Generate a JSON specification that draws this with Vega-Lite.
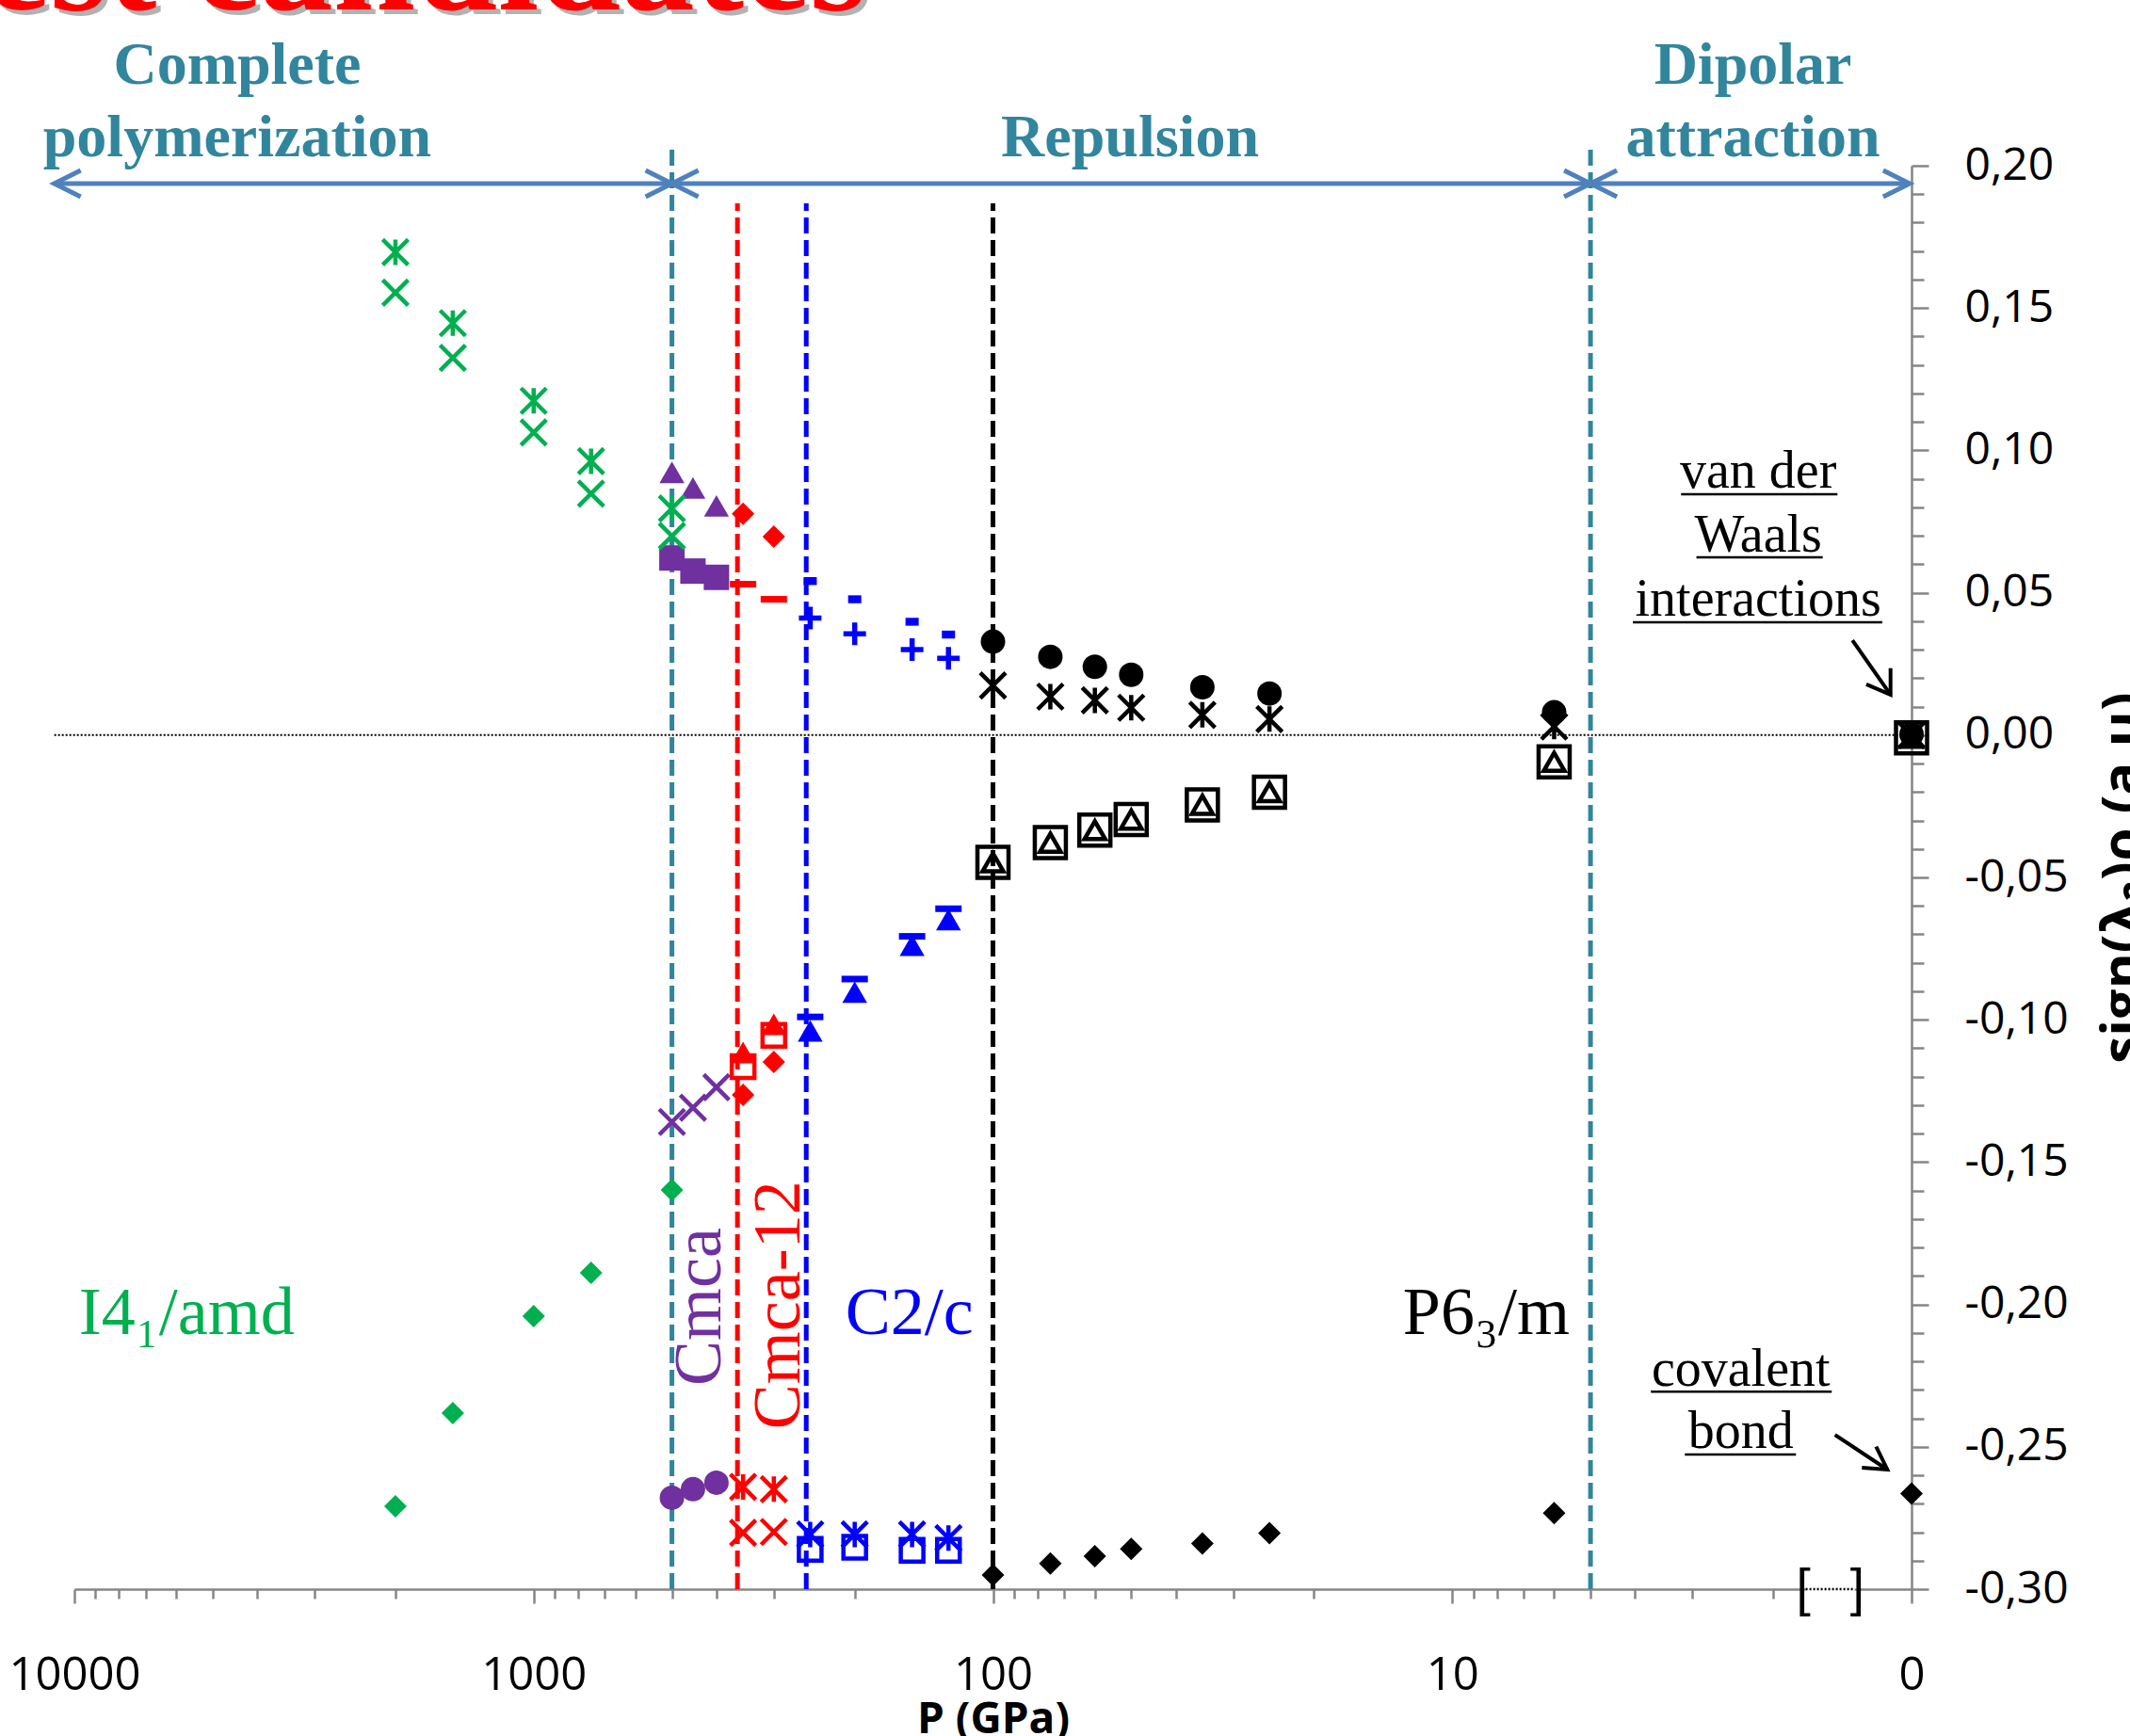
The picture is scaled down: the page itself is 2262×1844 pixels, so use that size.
{
  "$schema": "https://vega.github.io/schema/vega-lite/v6.json",
  "width": 1951,
  "height": 1512,
  "autosize": {"type": "none"},
  "padding": {"left": 79, "top": 176, "right": 232, "bottom": 156},
  "background": "white",
  "config": {"view": {"stroke": null}},
  "datasets": {
    "pts": [
      {"P": 2000, "v": 0.1696, "phase": "I4₁/amd", "marker": "star"},
      {"P": 2000, "v": 0.1554, "phase": "I4₁/amd", "marker": "x"},
      {"P": 2000, "v": -0.2709, "phase": "I4₁/amd", "marker": "diamond"},
      {"P": 1500, "v": 0.1447, "phase": "I4₁/amd", "marker": "star"},
      {"P": 1500, "v": 0.1325, "phase": "I4₁/amd", "marker": "x"},
      {"P": 1500, "v": -0.2382, "phase": "I4₁/amd", "marker": "diamond"},
      {"P": 1000, "v": 0.1174, "phase": "I4₁/amd", "marker": "star"},
      {"P": 1000, "v": 0.1063, "phase": "I4₁/amd", "marker": "x"},
      {"P": 1000, "v": -0.2041, "phase": "I4₁/amd", "marker": "diamond"},
      {"P": 750, "v": 0.0962, "phase": "I4₁/amd", "marker": "star"},
      {"P": 750, "v": 0.0848, "phase": "I4₁/amd", "marker": "x"},
      {"P": 750, "v": -0.1889, "phase": "I4₁/amd", "marker": "diamond"},
      {"P": 500, "v": 0.0796, "phase": "I4₁/amd", "marker": "star"},
      {"P": 500, "v": 0.0699, "phase": "I4₁/amd", "marker": "x"},
      {"P": 500, "v": -0.1598, "phase": "I4₁/amd", "marker": "diamond"},

      {"P": 500, "v": 0.0923, "phase": "Cmca", "marker": "triangle"},
      {"P": 450, "v": 0.0868, "phase": "Cmca", "marker": "triangle"},
      {"P": 400, "v": 0.0805, "phase": "Cmca", "marker": "triangle"},
      {"P": 500, "v": 0.0622, "phase": "Cmca", "marker": "square"},
      {"P": 450, "v": 0.0576, "phase": "Cmca", "marker": "square"},
      {"P": 400, "v": 0.0554, "phase": "Cmca", "marker": "square"},
      {"P": 500, "v": -0.1359, "phase": "Cmca", "marker": "x"},
      {"P": 450, "v": -0.1309, "phase": "Cmca", "marker": "x"},
      {"P": 400, "v": -0.1237, "phase": "Cmca", "marker": "x"},
      {"P": 500, "v": -0.2679, "phase": "Cmca", "marker": "circle"},
      {"P": 450, "v": -0.2649, "phase": "Cmca", "marker": "circle"},
      {"P": 400, "v": -0.2626, "phase": "Cmca", "marker": "circle"},

      {"P": 350, "v": 0.0777, "phase": "Cmca-12", "marker": "diamond"},
      {"P": 300, "v": 0.0697, "phase": "Cmca-12", "marker": "diamond"},
      {"P": 350, "v": 0.0530, "phase": "Cmca-12", "marker": "dash"},
      {"P": 300, "v": 0.0477, "phase": "Cmca-12", "marker": "dash"},
      {"P": 350, "v": -0.1165, "phase": "Cmca-12", "marker": "opensquare"},
      {"P": 300, "v": -0.1055, "phase": "Cmca-12", "marker": "opensquare"},
      {"P": 350, "v": -0.1115, "phase": "Cmca-12", "marker": "triangle"},
      {"P": 300, "v": -0.1016, "phase": "Cmca-12", "marker": "triangle"},
      {"P": 350, "v": -0.1264, "phase": "Cmca-12", "marker": "diamond"},
      {"P": 300, "v": -0.1148, "phase": "Cmca-12", "marker": "diamond"},
      {"P": 350, "v": -0.2641, "phase": "Cmca-12", "marker": "star"},
      {"P": 300, "v": -0.2649, "phase": "Cmca-12", "marker": "star"},
      {"P": 350, "v": -0.2802, "phase": "Cmca-12", "marker": "x"},
      {"P": 300, "v": -0.2799, "phase": "Cmca-12", "marker": "x"},

      {"P": 250, "v": 0.0541, "phase": "C2/c", "marker": "minidash"},
      {"P": 200, "v": 0.0477, "phase": "C2/c", "marker": "minidash"},
      {"P": 150, "v": 0.0398, "phase": "C2/c", "marker": "minidash"},
      {"P": 125, "v": 0.0353, "phase": "C2/c", "marker": "minidash"},
      {"P": 250, "v": 0.0411, "phase": "C2/c", "marker": "plus"},
      {"P": 200, "v": 0.0356, "phase": "C2/c", "marker": "plus"},
      {"P": 150, "v": 0.0300, "phase": "C2/c", "marker": "plus"},
      {"P": 125, "v": 0.0270, "phase": "C2/c", "marker": "plus"},
      {"P": 250, "v": -0.1039, "phase": "C2/c", "marker": "triangle"},
      {"P": 200, "v": -0.0903, "phase": "C2/c", "marker": "triangle"},
      {"P": 150, "v": -0.0738, "phase": "C2/c", "marker": "triangle"},
      {"P": 125, "v": -0.0648, "phase": "C2/c", "marker": "triangle"},
      {"P": 250, "v": -0.0990, "phase": "C2/c", "marker": "dash"},
      {"P": 200, "v": -0.0857, "phase": "C2/c", "marker": "dash"},
      {"P": 150, "v": -0.0707, "phase": "C2/c", "marker": "dash"},
      {"P": 125, "v": -0.0610, "phase": "C2/c", "marker": "dash"},
      {"P": 250, "v": -0.2808, "phase": "C2/c", "marker": "star"},
      {"P": 200, "v": -0.2808, "phase": "C2/c", "marker": "star"},
      {"P": 150, "v": -0.2808, "phase": "C2/c", "marker": "star"},
      {"P": 125, "v": -0.2821, "phase": "C2/c", "marker": "star"},
      {"P": 250, "v": -0.2860, "phase": "C2/c", "marker": "opensquare"},
      {"P": 200, "v": -0.2853, "phase": "C2/c", "marker": "opensquare"},
      {"P": 150, "v": -0.2864, "phase": "C2/c", "marker": "opensquare"},
      {"P": 125, "v": -0.2864, "phase": "C2/c", "marker": "opensquare"},

      {"P": 100, "v": 0.0328, "phase": "P6₃/m", "marker": "circle"},
      {"P": 75, "v": 0.0275, "phase": "P6₃/m", "marker": "circle"},
      {"P": 60, "v": 0.0240, "phase": "P6₃/m", "marker": "circle"},
      {"P": 50, "v": 0.0212, "phase": "P6₃/m", "marker": "circle"},
      {"P": 35, "v": 0.0168, "phase": "P6₃/m", "marker": "circle"},
      {"P": 25, "v": 0.0146, "phase": "P6₃/m", "marker": "circle"},
      {"P": 6, "v": 0.0080, "phase": "P6₃/m", "marker": "circle"},
      {"P": 1, "v": 0.0003, "phase": "P6₃/m", "marker": "circle"},
      {"P": 100, "v": 0.0174, "phase": "P6₃/m", "marker": "star"},
      {"P": 75, "v": 0.0135, "phase": "P6₃/m", "marker": "star"},
      {"P": 60, "v": 0.0122, "phase": "P6₃/m", "marker": "star"},
      {"P": 50, "v": 0.0096, "phase": "P6₃/m", "marker": "star"},
      {"P": 35, "v": 0.0071, "phase": "P6₃/m", "marker": "star"},
      {"P": 25, "v": 0.0056, "phase": "P6₃/m", "marker": "star"},
      {"P": 6, "v": 0.0030, "phase": "P6₃/m", "marker": "star"},
      {"P": 1, "v": 0.0000, "phase": "P6₃/m", "marker": "star"},
      {"P": 100, "v": -0.0447, "phase": "P6₃/m", "marker": "box"},
      {"P": 75, "v": -0.0378, "phase": "P6₃/m", "marker": "box"},
      {"P": 60, "v": -0.0334, "phase": "P6₃/m", "marker": "box"},
      {"P": 50, "v": -0.0297, "phase": "P6₃/m", "marker": "box"},
      {"P": 35, "v": -0.0245, "phase": "P6₃/m", "marker": "box"},
      {"P": 25, "v": -0.0201, "phase": "P6₃/m", "marker": "box"},
      {"P": 6, "v": -0.0094, "phase": "P6₃/m", "marker": "box"},
      {"P": 1, "v": -0.0010, "phase": "P6₃/m", "marker": "box"},
      {"P": 100, "v": -0.0447, "phase": "P6₃/m", "marker": "opentriangle"},
      {"P": 75, "v": -0.0378, "phase": "P6₃/m", "marker": "opentriangle"},
      {"P": 60, "v": -0.0334, "phase": "P6₃/m", "marker": "opentriangle"},
      {"P": 50, "v": -0.0297, "phase": "P6₃/m", "marker": "opentriangle"},
      {"P": 35, "v": -0.0245, "phase": "P6₃/m", "marker": "opentriangle"},
      {"P": 25, "v": -0.0201, "phase": "P6₃/m", "marker": "opentriangle"},
      {"P": 6, "v": -0.0094, "phase": "P6₃/m", "marker": "opentriangle"},
      {"P": 1, "v": -0.0010, "phase": "P6₃/m", "marker": "opentriangle"},
      {"P": 100, "v": -0.2950, "phase": "P6₃/m", "marker": "diamond"},
      {"P": 75, "v": -0.2910, "phase": "P6₃/m", "marker": "diamond"},
      {"P": 60, "v": -0.2884, "phase": "P6₃/m", "marker": "diamond"},
      {"P": 50, "v": -0.2859, "phase": "P6₃/m", "marker": "diamond"},
      {"P": 35, "v": -0.2840, "phase": "P6₃/m", "marker": "diamond"},
      {"P": 25, "v": -0.2803, "phase": "P6₃/m", "marker": "diamond"},
      {"P": 6, "v": -0.2733, "phase": "P6₃/m", "marker": "diamond"},
      {"P": 1, "v": -0.2664, "phase": "P6₃/m", "marker": "diamond"}
    ],
    "vlines": [
      {"P": 500, "v": -0.30, "v2": 0.2075, "phase": "boundary"},
      {"P": 5, "v": -0.30, "v2": 0.2075, "phase": "boundary"},
      {"P": 360, "v": -0.30, "v2": 0.1868, "phase": "Cmca-12"},
      {"P": 255, "v": -0.30, "v2": 0.1868, "phase": "C2/c"},
      {"P": 100, "v": -0.30, "v2": 0.1868, "phase": "P6₃/m"}
    ],
    "zero": [{"P": 11060, "P2": 1, "v": 0}],
    "arrows": [
      {"P": 11060, "P2": 500, "v": 0.1937},
      {"P": 500, "P2": 5, "v": 0.1937},
      {"P": 5, "P2": 1.01, "v": 0.1937}
    ],
    "heads": [
      {"P": 11060, "v": 0.1937, "dir": "left"},
      {"P": 500, "v": 0.1937, "dir": "right"},
      {"P": 500, "v": 0.1937, "dir": "left"},
      {"P": 5, "v": 0.1937, "dir": "right"},
      {"P": 5, "v": 0.1937, "dir": "left"},
      {"P": 1.01, "v": 0.1937, "dir": "right"}
    ],
    "pointers": [
      {"P": 1.345, "v": 0.0333, "P2": 1.111, "v2": 0.0142, "note": "vdw"},
      {"P": 1.468, "v": -0.2458, "P2": 1.129, "v2": -0.2580, "note": "cov"}
    ],
    "underlines": [
      {"P": 3.176, "P2": 1.450, "v": 0.0846},
      {"P": 2.94, "P2": 1.561, "v": 0.0624},
      {"P": 4.043, "P2": 1.158, "v": 0.0396},
      {"P": 3.694, "P2": 1.492, "v": -0.2306},
      {"P": 3.116, "P2": 1.785, "v": -0.2527}
    ],
    "notes": [
      {"P": 4420, "v": 0.2288, "text": "Complete", "kind": "header"},
      {"P": 4420, "v": 0.2033, "text": "polymerization", "kind": "header"},
      {"P": 50.3, "v": 0.2033, "text": "Repulsion", "kind": "header"},
      {"P": 2.215, "v": 0.2288, "text": "Dipolar", "kind": "header"},
      {"P": 2.215, "v": 0.2033, "text": "attraction", "kind": "header"},
      {"P": 2.157, "v": 0.0869, "text": "van der", "kind": "note"},
      {"P": 2.157, "v": 0.0644, "text": "Waals", "kind": "note"},
      {"P": 2.157, "v": 0.0419, "text": "interactions", "kind": "note"},
      {"P": 2.353, "v": -0.2286, "text": "covalent", "kind": "note"},
      {"P": 2.353, "v": -0.2504, "text": "bond", "kind": "note"},
      {"P": 5695, "v": -0.2104, "text": "I4₁/amd", "kind": "phase", "phase": "I4₁/amd"},
      {"P": 152, "v": -0.2104, "text": "C2/c", "kind": "phase", "phase": "C2/c"},
      {"P": 8.43, "v": -0.2104, "text": "P6₃/m", "kind": "phase", "phase": "P6₃/m"},
      {"P": 393, "v": -0.2008, "text": "Cmca", "kind": "vphase", "phase": "Cmca"},
      {"P": 264, "v": -0.2002, "text": "Cmca-12", "kind": "vphase", "phase": "Cmca-12"},
      {"P": 2200, "v": 0.2549, "text": "Best candidates", "kind": "title"},
      {"P": 1.719, "v": -0.30, "text": "[", "kind": "bracket"},
      {"P": 1.313, "v": -0.30, "text": "]", "kind": "bracket"}
    ],
    "gap": [{"P": 1.70, "P2": 1.33, "v": -0.30}]
  },
  "encoding": {
    "x": {
      "field": "P", "type": "quantitative",
      "scale": {"type": "log", "domain": [1, 10000], "reverse": true, "nice": false},
      "axis": {
        "orient": "bottom",
        "grid": false,
        "values": [1,2,3,4,5,6,7,8,9,10,20,30,40,50,60,70,80,90,100,200,300,400,500,600,700,800,900,1000,2000,3000,4000,5000,6000,7000,8000,9000,10000],
        "labelExpr": "datum.value == 1 ? '0' : (indexof([10,100,1000,10000], datum.value) >= 0 ? format(datum.value, 'd') : '')",
        "labelOverlap": false,
        "labelFlush": false,
        "labelBound": false,
        "labelFont": "Open Sans",
        "labelFontSize": 49,
        "labelColor": "#000000",
        "labelPadding": 52,
        "tickSize": {"condition": {"test": "indexof([1,10,100,1000,10000], datum.value) >= 0", "value": 15}, "value": 10},
        "tickColor": "#868686",
        "tickWidth": 2.5,
        "domainColor": "#868686",
        "domainWidth": 2.5,
        "title": "P (GPa)",
        "titleFont": "Open Sans",
        "titleFontWeight": "bold",
        "titleFontSize": 46,
        "titleColor": "#000000",
        "titlePadding": 0
      }
    },
    "y": {
      "field": "v", "type": "quantitative",
      "scale": {"domain": [-0.30, 0.20], "nice": false, "zero": false},
      "axis": {
        "orient": "right",
        "grid": false,
        "values": [-0.30,-0.29,-0.28,-0.27,-0.26,-0.25,-0.24,-0.23,-0.22,-0.21,-0.20,-0.19,-0.18,-0.17,-0.16,-0.15,-0.14,-0.13,-0.12,-0.11,-0.10,-0.09,-0.08,-0.07,-0.06,-0.05,-0.04,-0.03,-0.02,-0.01,0,0.01,0.02,0.03,0.04,0.05,0.06,0.07,0.08,0.09,0.10,0.11,0.12,0.13,0.14,0.15,0.16,0.17,0.18,0.19,0.20],
        "labelExpr": "abs(datum.value*20 - round(datum.value*20)) < 0.001 ? ((datum.value < -0.0001 ? '-' : '') + replace(format(abs(datum.value), '.2f'), '.', ',')) : ''",
        "labelOverlap": false,
        "labelFlush": false,
        "labelBound": false,
        "labelFont": "Open Sans",
        "labelFontSize": 48,
        "labelColor": "#000000",
        "labelPadding": 38,
        "tickSize": {"condition": {"test": "abs(datum.value*20 - round(datum.value*20)) < 0.001", "value": 18}, "value": 13},
        "tickColor": "#868686",
        "tickWidth": 2.5,
        "domainColor": "#868686",
        "domainWidth": 2.5,
        "title": "sign(λ₂)ρ (a.u)",
        "titleFont": "Open Sans",
        "titleFontWeight": "bold",
        "titleFontSize": 58,
        "titleColor": "#000000",
        "titleAngle": 270,
        "titleBaseline": "top",
        "titlePadding": 30
      }
    }
  },
  "resolve": {"scale": {"color": "independent", "shape": "independent", "size": "independent"}},
  "layer": [
    {
      "data": {"name": "vlines"},
      "mark": {"type": "rule", "strokeWidth": 5, "strokeDash": [17, 7]},
      "encoding": {
        "y2": {"field": "v2"},
        "color": {"field": "phase", "type": "nominal", "legend": null,
          "scale": {"domain": ["boundary", "Cmca-12", "C2/c", "P6₃/m"], "range": ["#31859C", "#FF0000", "#0000FF", "#000000"]}}
      }
    },
    {
      "data": {"name": "zero"},
      "mark": {"type": "rule", "strokeWidth": 2, "strokeDash": [2, 2], "color": "#000000"},
      "encoding": {"x2": {"field": "P2"}}
    },
    {
      "data": {"name": "arrows"},
      "mark": {"type": "rule", "strokeWidth": 5, "color": "#4F81BD"},
      "encoding": {"x2": {"field": "P2"}}
    },
    {
      "data": {"name": "heads"},
      "transform": [{"filter": "datum.dir == 'left'"}],
      "mark": {"type": "point", "shape": "M2,-1L0,0L2,1", "size": 784, "filled": false, "strokeWidth": 5, "color": "#4F81BD", "opacity": 1},
      "encoding": {}
    },
    {
      "data": {"name": "heads"},
      "transform": [{"filter": "datum.dir == 'right'"}],
      "mark": {"type": "point", "shape": "M-2,-1L0,0L-2,1", "size": 784, "filled": false, "strokeWidth": 5, "color": "#4F81BD", "opacity": 1},
      "encoding": {}
    },
    {
      "data": {"name": "pts"},
      "transform": [{"filter": {"field": "marker", "oneOf": ["diamond", "triangle", "square", "circle", "dash", "minidash"]}}],
      "mark": {"type": "point", "filled": true, "opacity": 1, "strokeWidth": 0},
      "encoding": {
        "shape": {"field": "marker", "type": "nominal", "legend": null,
          "scale": {"domain": ["diamond", "triangle", "square", "circle", "dash", "minidash"],
                    "range": ["diamond", "triangle-up", "square", "circle", "M-1,-0.25L1,-0.25L1,0.25L-1,0.25Z", "M-1,-0.6L1,-0.6L1,0.6L-1,0.6Z"]}},
        "size": {"field": "marker", "type": "ordinal", "legend": null,
          "scale": {"type": "ordinal", "domain": ["diamond", "triangle", "square", "circle", "dash", "minidash"], "range": [576, 700, 729, 676, 784, 196]}},
        "color": {"field": "phase", "type": "nominal", "legend": null,
          "scale": {"domain": ["I4₁/amd", "Cmca", "Cmca-12", "C2/c", "P6₃/m"], "range": ["#00B050", "#7030A0", "#FF0000", "#0000FF", "#000000"]}}
      }
    },
    {
      "data": {"name": "pts"},
      "transform": [{"filter": {"field": "marker", "oneOf": ["x", "star", "opensquare", "box", "opentriangle"]}}],
      "mark": {"type": "point", "filled": false, "opacity": 1, "strokeWidth": 4.5},
      "encoding": {
        "shape": {"field": "marker", "type": "nominal", "legend": null,
          "scale": {"domain": ["x", "star", "opensquare", "box", "opentriangle"],
                    "range": ["M-1,-1L1,1M1,-1L-1,1", "M-1,-1L1,1M1,-1L-1,1M0,-1L0,1", "square", "square", "triangle-up"]}},
        "size": {"field": "marker", "type": "ordinal", "legend": null,
          "scale": {"type": "ordinal", "domain": ["x", "star", "opensquare", "box", "opentriangle"], "range": [729, 729, 576, 1089, 484]}},
        "color": {"field": "phase", "type": "nominal", "legend": null,
          "scale": {"domain": ["I4₁/amd", "Cmca", "Cmca-12", "C2/c", "P6₃/m"], "range": ["#00B050", "#7030A0", "#FF0000", "#0000FF", "#000000"]}}
      }
    },
    {
      "data": {"name": "pts"},
      "transform": [{"filter": {"field": "marker", "equal": "plus"}}],
      "mark": {"type": "point", "shape": "M-1,0L1,0M0,-1L0,1", "size": 576, "filled": false, "opacity": 1, "strokeWidth": 5.5, "color": "#0000FF"},
      "encoding": {}
    },
    {
      "data": {"name": "pointers"},
      "mark": {"type": "rule", "strokeWidth": 4, "color": "#000000"},
      "encoding": {"x2": {"field": "P2"}, "y2": {"field": "v2"}}
    },
    {
      "data": {"name": "pointers"},
      "transform": [{"filter": "datum.note == 'vdw'"}],
      "mark": {"type": "point", "shape": "M0,-1L0,0L-0.92,-0.39", "size": 3136, "filled": false, "strokeWidth": 4, "color": "#000000", "opacity": 1},
      "encoding": {"x": {"field": "P2", "type": "quantitative"}, "y": {"field": "v2", "type": "quantitative"}}
    },
    {
      "data": {"name": "pointers"},
      "transform": [{"filter": "datum.note == 'cov'"}],
      "mark": {"type": "point", "shape": "M-1,-0.07L0,0L-0.44,-0.9", "size": 2916, "filled": false, "strokeWidth": 4, "color": "#000000", "opacity": 1},
      "encoding": {"x": {"field": "P2", "type": "quantitative"}, "y": {"field": "v2", "type": "quantitative"}}
    },
    {
      "data": {"name": "underlines"},
      "mark": {"type": "rule", "strokeWidth": 2.5, "color": "#000000"},
      "encoding": {"x2": {"field": "P2"}}
    },
    {
      "data": {"name": "notes"},
      "transform": [{"filter": "datum.kind == 'header'"}],
      "mark": {"type": "text", "font": "Liberation Serif", "fontWeight": "bold", "fontSize": 64, "color": "#31859C", "align": "center", "baseline": "alphabetic"},
      "encoding": {"text": {"field": "text"}}
    },
    {
      "data": {"name": "notes"},
      "transform": [{"filter": "datum.kind == 'note'"}],
      "mark": {"type": "text", "font": "Liberation Serif", "fontSize": 56, "color": "#000000", "align": "center", "baseline": "alphabetic"},
      "encoding": {"text": {"field": "text"}}
    },
    {
      "data": {"name": "notes"},
      "transform": [{"filter": "datum.kind == 'phase'"}],
      "mark": {"type": "text", "font": "Liberation Serif", "fontSize": 72, "align": "center", "baseline": "alphabetic"},
      "encoding": {
        "text": {"field": "text"},
        "color": {"field": "phase", "type": "nominal", "legend": null,
          "scale": {"domain": ["I4₁/amd", "Cmca", "Cmca-12", "C2/c", "P6₃/m"], "range": ["#00B050", "#7030A0", "#FF0000", "#0000FF", "#000000"]}}
      }
    },
    {
      "data": {"name": "notes"},
      "transform": [{"filter": "datum.kind == 'vphase'"}],
      "mark": {"type": "text", "font": "Liberation Serif", "fontSize": 72, "align": "center", "baseline": "alphabetic", "angle": 270},
      "encoding": {
        "text": {"field": "text"},
        "color": {"field": "phase", "type": "nominal", "legend": null,
          "scale": {"domain": ["I4₁/amd", "Cmca", "Cmca-12", "C2/c", "P6₃/m"], "range": ["#00B050", "#7030A0", "#FF0000", "#0000FF", "#000000"]}}
      }
    },
    {
      "data": {"name": "notes"},
      "transform": [{"filter": "datum.kind == 'title'"}],
      "mark": {"type": "text", "font": "Liberation Serif", "fontWeight": "bold", "fontSize": 157, "color": "#7F7F7F", "opacity": 0.6, "dx": 5, "dy": 5, "align": "center", "baseline": "alphabetic"},
      "encoding": {"text": {"field": "text"}}
    },
    {
      "data": {"name": "notes"},
      "transform": [{"filter": "datum.kind == 'title'"}],
      "mark": {"type": "text", "font": "Liberation Serif", "fontWeight": "bold", "fontSize": 157, "color": "#FF0000", "align": "center", "baseline": "alphabetic"},
      "encoding": {"text": {"field": "text"}}
    },
    {
      "data": {"name": "gap"},
      "mark": {"type": "rule", "strokeWidth": 5, "color": "#FFFFFF"},
      "encoding": {"x2": {"field": "P2"}}
    },
    {
      "data": {"name": "gap"},
      "mark": {"type": "rule", "strokeWidth": 2.5, "strokeDash": [2, 2], "color": "#000000"},
      "encoding": {"x2": {"field": "P2"}}
    },
    {
      "data": {"name": "notes"},
      "transform": [{"filter": "datum.kind == 'bracket'"}],
      "mark": {"type": "text", "font": "Liberation Sans", "fontSize": 55, "color": "#000000", "align": "center", "baseline": "middle"},
      "encoding": {"text": {"field": "text"}}
    }
  ]
}
